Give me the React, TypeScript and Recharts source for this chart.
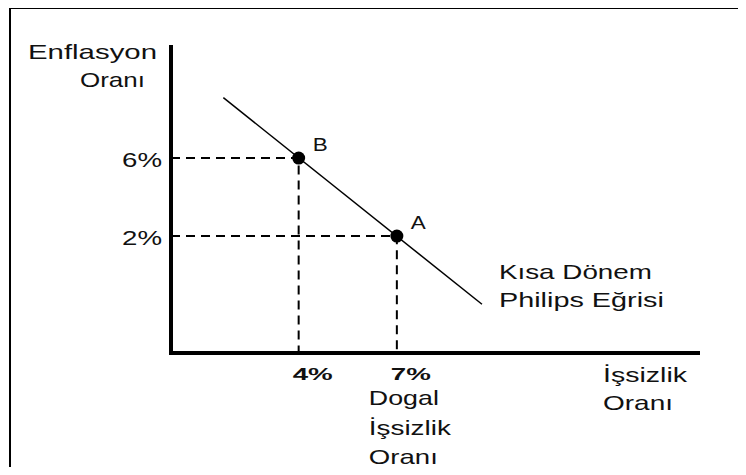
import React from "react";
import { ComposedChart, Line, Scatter, XAxis, YAxis } from "recharts";

// values
const X_DOMAIN = [0.1, 16.2];
const Y_DOMAIN = [-4, 11.7];
const X_TICKS = [4, 7];
const X_TICK_LABELS = ["4%", "7%"];
const Y_TICKS = [2, 6];
const Y_TICK_LABELS = ["2%", "6%"];
const NATURAL_RATE_NOTE = ["Dogal", "İşsizlik", "Oranı"];

const POINT_NAMES = ["B", "A"];
const POINT_X = [4, 7];
const POINT_Y = [6, 2];

const CURVE_X = [1.7, 9.6];
const CURVE_Y = [9.1, -1.5];
const CURVE_LABEL = ["Kısa Dönem", "Philips Eğrisi"];

const X_TITLE = ["İşsizlik", "Oranı"];
const Y_TITLE = ["Enflasyon", "Oranı"];

const FONT = "'Liberation Sans', Arial, sans-serif";

const points = POINT_NAMES.map((name, i) => ({ name, x: POINT_X[i], y: POINT_Y[i] }));
const curve = CURVE_X.map((x, i) => ({ x, y: CURVE_Y[i] }));
// dashed guides: from the y axis to the point, then down to the x axis
const guides = points.map((p) => [
  { x: X_DOMAIN[0], y: p.y },
  { x: p.x, y: p.y },
  { x: p.x, y: Y_DOMAIN[0] },
]);

// the original art is stretched sideways, so text is fitted to a width
function Txt({ x, y, w, size = 21, bold = false, children }: any) {
  return (
    <text
      x={x}
      y={y}
      fontFamily={FONT}
      fontSize={size}
      fontWeight={bold ? 700 : 400}
      fill="#111"
      textLength={w}
      lengthAdjust="spacingAndGlyphs"
    >
      {children}
    </text>
  );
}

const YTick = ({ x, y, payload }: any) => {
  const label = Y_TICK_LABELS[Y_TICKS.indexOf(payload.value)];
  return (
    <text
      x={x}
      y={y + 9}
      textAnchor="end"
      fontFamily={FONT}
      fontSize={21}
      fill="#111"
      textLength={40}
      lengthAdjust="spacingAndGlyphs"
    >
      {label}
    </text>
  );
};

const XTick = ({ x, y, payload }: any) => {
  const label = X_TICK_LABELS[X_TICKS.indexOf(payload.value)];
  return (
    <g>
      <Txt x={x - 6} y={y + 27} w={40} size={17} bold>
        {label}
      </Txt>
      {payload.value === 7 &&
        NATURAL_RATE_NOTE.map((t, i) => (
          <Txt key={t} x={x - 28} y={y + 52 + i * 29.5} w={[70, 82, 69][i]}>
            {t}
          </Txt>
        ))}
    </g>
  );
};

const PointShape = (props: any) => {
  const { cx, cy, payload } = props;
  return (
    <g>
      <circle cx={cx} cy={cy} r={6.5} fill="#000" />
      <Txt x={cx + 14} y={cy - 7} w={15} size={19}>
        {payload.name}
      </Txt>
    </g>
  );
};

const CurveEnd = (props: any) => {
  const { cx, cy, index } = props;
  if (index !== curve.length - 1) return <g key={`d${index}`} />;
  return (
    <g key={`d${index}`}>
      <Txt x={cx + 17} y={cy - 25} w={153}>
        {CURVE_LABEL[0]}
      </Txt>
      <Txt x={cx + 17} y={cy + 3} w={165}>
        {CURVE_LABEL[1]}
      </Txt>
    </g>
  );
};

export default function App() {
  return (
    <div
      style={{
        position: "relative",
        width: 746,
        height: 475,
        margin: -8,
        overflow: "hidden",
        background: "#fff",
      }}
    >
      <div
        style={{
          position: "absolute",
          left: 9,
          top: 7,
          width: 800,
          height: 500,
          borderTop: "2px solid #000",
          borderLeft: "2px solid #000",
        }}
      />
      <div style={{ position: "absolute", left: 0, top: 0 }}>
        <ComposedChart
          width={746}
          height={475}
          margin={{ top: 47, right: 48, bottom: 92, left: 111 }}
        >
          <XAxis
            type="number"
            dataKey="x"
            domain={X_DOMAIN}
            allowDataOverflow
            ticks={X_TICKS}
            tick={<XTick />}
            tickLine={false}
            tickSize={0}
            tickMargin={0}
            height={30}
            axisLine={{ stroke: "#000", strokeWidth: 4, strokeLinecap: "square" }}
            label={{
              content: ({ viewBox }: any) => (
                <g>
                  {X_TITLE.map((t, i) => (
                    <Txt
                      key={t}
                      x={viewBox.x + viewBox.width - 95}
                      y={viewBox.y + 29 + i * 28}
                      w={[84, 70][i]}
                    >
                      {t}
                    </Txt>
                  ))}
                </g>
              ),
            }}
          />
          <YAxis
            type="number"
            dataKey="y"
            domain={Y_DOMAIN}
            allowDataOverflow
            ticks={Y_TICKS}
            tick={<YTick />}
            tickLine={false}
            tickSize={0}
            tickMargin={9}
            width={60}
            axisLine={{ stroke: "#000", strokeWidth: 4, strokeLinecap: "square" }}
            label={{
              content: ({ viewBox }: any) => (
                <g>
                  <Txt x={viewBox.x - 83} y={viewBox.y + 12} w={129}>
                    {Y_TITLE[0]}
                  </Txt>
                  <Txt x={viewBox.x - 31} y={viewBox.y + 40} w={65}>
                    {Y_TITLE[1]}
                  </Txt>
                </g>
              ),
            }}
          />
          {guides.map((g, i) => (
            <Line
              key={`guide-${i}`}
              data={g}
              dataKey="y"
              stroke="#000"
              strokeWidth={2}
              strokeDasharray="9 6"
              dot={false}
              isAnimationActive={false}
            />
          ))}
          <Line
            data={curve}
            dataKey="y"
            stroke="#000"
            strokeWidth={1.5}
            dot={CurveEnd}
            isAnimationActive={false}
          />
          <Scatter data={points} dataKey="y" shape={PointShape} isAnimationActive={false} />
        </ComposedChart>
      </div>
    </div>
  );
}
